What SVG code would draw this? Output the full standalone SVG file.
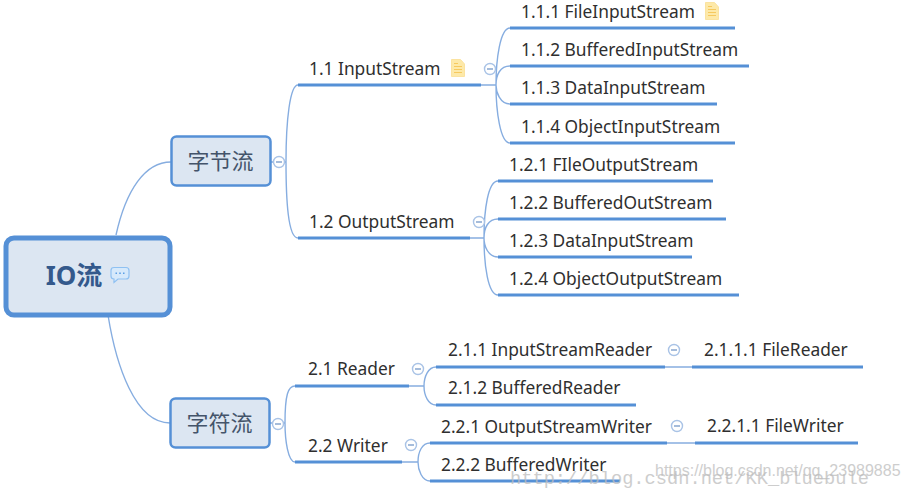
<svg xmlns="http://www.w3.org/2000/svg" width="909" height="489" viewBox="0 0 909 489">
<defs>
<g id="minus"><circle r="5.5" fill="#fff" stroke="#a9c3e6" stroke-width="1.4"/><path d="M-3 0H3" stroke="#7f9fcc" stroke-width="1.4"/></g>
<g id="note"><path d="M-6.500 -8.500H2.500L6.500 -4V8.500H-6.500Z" fill="#fde9a9" stroke="#fbe3a0" stroke-width="1"/><path d="M-4 -1.500H4M-4 1.500H4M-4 4.500H4M-4 -4.500H0" stroke="#f6c95e" stroke-width="1.200"/></g>
</defs>
<style>
text{font-family:"Noto Sans","Noto Sans CJK SC",sans-serif;fill:#2f2f2f}
.t{font-size:17.350px}
.c{fill:none;stroke:#86ade0;stroke-width:1.400}
.u{fill:none;stroke:#5590d6;stroke-width:3.200}
.n{fill:#dce6f2;stroke:#5590d6;stroke-width:2.500}
.h{font-size:22px;fill:#44546a;text-anchor:middle}
.w{fill:#bdbdbd;opacity:.75}
</style>
<rect width="909" height="489" fill="#fff"/>
<g id="connectors">
<path class="c" d="M116 235C126 190 145 162 171 162"/>
<path class="c" d="M108 315C116 365 135 423 170 423"/>
<path class="c" d="M271 162H286M286 162C286 120 290 85 298 85M286 162C286 200 288 238 298 238"/>
<path class="c" d="M270 423H285M285 423C285 395 288 386 295 386M285 423C285 440 288 462 295 462"/>
<path class="c" d="M481 85H496M496 85C496 60 500 28 510 28M496 85C496 75 500 66 510 66M496 85C496 92 500 104 510 104M496 85C496 110 500 143 510 143"/>
<path class="c" d="M470 238H484M484 238C484 210 488 181 498 181M484 238C484 228 488 219 498 219M484 238C484 246 488 257 498 257M484 238C484 265 488 295 498 295"/>
<path class="c" d="M409 386H424M424 386C424 377 428 367 436 367M424 386C424 395 428 405 436 405"/>
<path class="c" d="M402 462H418M418 462C418 452 422 443 430 443M418 462C418 470 422 481 430 481"/>
<path class="c" d="M665 367H692M667 443H695"/>
<path class="u" d="M298 85H481M298 238H470M295 386H409M295 462H402"/>
<path class="u" d="M510 28H735M510 66H749M510 104H717M510 143H735"/>
<path class="u" d="M498 181H713M498 219H726M498 257H692M498 295H739"/>
<path class="u" d="M436 367H665M692 367H863M436 405H636M430 443H667M695 443H858M430 481H620"/>
</g>
<g id="root"><rect x="6" y="238" width="164" height="77" rx="8" fill="#dce6f2" stroke="#5590d6" stroke-width="5"/><text x="74" y="285" font-size="26" font-weight="700" style="fill:#34598c" text-anchor="middle">IO流</text>
<g transform="translate(120 274)"><path d="M-6 -6.500H6Q9 -6.500 9 -3.500V2Q9 5 6 5H-2L-6 8.500V5Q-9 5 -9 2V-3.500Q-9 -6.500 -6 -6.500Z" fill="#d6e9fb" stroke="#8fc1f2" stroke-width="1.200"/><path d="M-4.500 -.8H-3M-.8 -.8H.8M3 -.8H4.500" stroke="#5b9fe6" stroke-width="1.400"/></g></g>
<g id="n1"><rect class="n" x="171.500" y="136.500" width="99" height="49" rx="5"/><text class="h" x="220.500" y="169">字节流</text><use href="#minus" x="279" y="162"/></g>
<g id="n2"><rect class="n" x="170.500" y="398.500" width="99" height="49" rx="5"/><text class="h" x="219.500" y="431">字符流</text><use href="#minus" x="278" y="424"/></g>
<g id="n11"><text class="t" x="309" y="75">1.1 InputStream</text><use href="#note" x="458" y="68"/><use href="#minus" x="490" y="69"/></g>
<g id="n12"><text class="t" x="309" y="228">1.2 OutputStream</text><use href="#minus" x="479" y="222"/></g>
<g id="n111"><text class="t" x="521" y="17.500">1.1.1 FileInputStream</text><use href="#note" x="712" y="11"/></g>
<g id="n112"><text class="t" x="521" y="55.500">1.1.2 BufferedInputStream</text></g>
<g id="n113"><text class="t" x="521" y="94">1.1.3 DataInputStream</text></g>
<g id="n114"><text class="t" x="521" y="132.500">1.1.4 ObjectInputStream</text></g>
<g id="n121"><text class="t" x="509" y="170.500">1.2.1 FIleOutputStream</text></g>
<g id="n122"><text class="t" x="509" y="208.500">1.2.2 BufferedOutStream</text></g>
<g id="n123"><text class="t" x="509" y="247">1.2.3 DataInputStream</text></g>
<g id="n124"><text class="t" x="509" y="285">1.2.4 ObjectOutputStream</text></g>
<g id="n21"><text class="t" x="308" y="375">2.1 Reader</text><use href="#minus" x="418" y="369"/></g>
<g id="n22"><text class="t" x="308" y="451.500">2.2 Writer</text><use href="#minus" x="411" y="445"/></g>
<g id="n211"><text class="t" x="448" y="356">2.1.1 InputStreamReader</text><use href="#minus" x="674" y="350"/></g>
<g id="n212"><text class="t" x="448" y="394">2.1.2 BufferedReader</text></g>
<g id="n2111"><text class="t" x="704" y="356">2.1.1.1 FileReader</text></g>
<g id="n221"><text class="t" x="441" y="432.500">2.2.1 OutputStreamWriter</text><use href="#minus" x="677" y="426"/></g>
<g id="n222"><text class="t" x="441" y="470.500">2.2.2 BufferedWriter</text></g>
<g id="n2211"><text class="t" x="707" y="432">2.2.1.1 FileWriter</text></g>
<text class="w" x="510" y="484" font-size="18.700" style="font-family:'Liberation Mono',monospace">http://blog.csdn.net/KK_bluebule</text>
<text class="w" x="655" y="476" font-size="16" style="font-family:'Liberation Sans',sans-serif">https://blog.csdn.net/qq_23989885</text>
</svg>
